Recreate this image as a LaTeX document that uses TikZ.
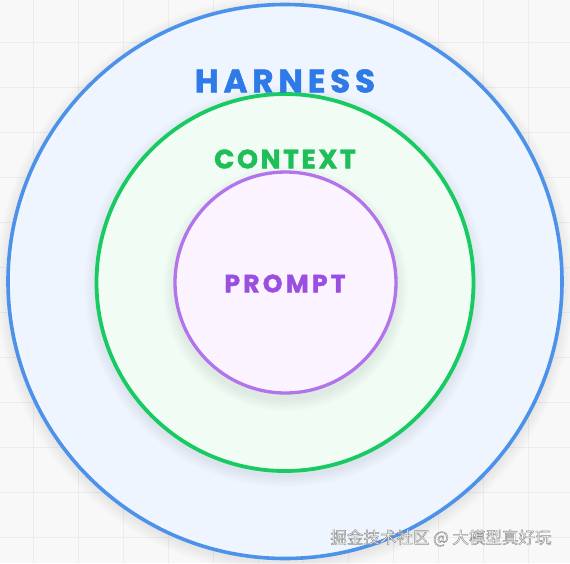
\documentclass[tikz,border=0pt]{standalone}
\usepackage{fontspec}
\setmainfont{Poppins}
\newfontfamily\cjk{Noto Sans CJK SC}
\definecolor{bgc}{HTML}{F8F8F8}
\definecolor{gridc}{HTML}{ECECEC}
\definecolor{bluestroke}{HTML}{4C92EA}
\definecolor{bluefill}{HTML}{EEF5FE}
\definecolor{bluetext}{HTML}{2E7AE6}
\definecolor{greenstroke}{HTML}{18CA62}
\definecolor{greenfill}{HTML}{F1FDF4}
\definecolor{greentext}{HTML}{1EBE58}
\definecolor{purplestroke}{HTML}{B274EA}
\definecolor{purplefill}{HTML}{FBF3FF}
\definecolor{purpletext}{HTML}{9A4FE0}
\tikzset{
  ring/.style={circle, inner sep=0pt, minimum size=#1},
  softshadow/.style={fill=black, fill opacity=0.010, draw=none},
  label1/.style={font=\bfseries\fontsize{32.5}{32.5}\selectfont\addfontfeature{LetterSpace=15,FakeBold=1.6}, text=bluetext},
  label2/.style={font=\bfseries\fontsize{26.5}{26.5}\selectfont\addfontfeature{LetterSpace=10,FakeBold=1.6}, text=greentext},
  label3/.style={font=\bfseries\fontsize{25}{25}\selectfont\addfontfeature{LetterSpace=13,FakeBold=1.6}, text=purpletext},
}
\begin{document}
\begin{tikzpicture}[x=1pt,y=-1pt]
\useasboundingbox (0,0) rectangle (570,563);
\fill[bgc] (0,0) rectangle (570,563);
\foreach \gx in {33,78,...,528} \draw[gridc, line width=1pt] (\gx,0) -- (\gx,563);
\foreach \gy in {42,87,...,537} \draw[gridc, line width=1pt] (0,\gy) -- (570,\gy);
% soft glow shadows
\foreach \d in {2,4,...,12} \fill[softshadow] (285,284.5) circle ({277+\d});
\node[ring=554pt, draw=bluestroke, fill=bluefill, line width=3.6pt] (harness) at (285,281.5) {};
\foreach \d in {2,4,...,12} \fill[softshadow] (285,286.5) circle ({188.5+\d});
\node[ring=377pt, draw=greenstroke, fill=greenfill, line width=3.8pt] (context) at (285,282.5) {};
\foreach \d in {2,4,...,12} \fill[softshadow] (285.5,288.5) circle ({110.5+\d});
\node[ring=221pt, draw=purplestroke, fill=purplefill, line width=3.3pt] (prompt) at (285.5,282.5) {};
\node[label1] (harnesst) at (285,81) {HARNESS};
\node[label2] (contextt) at (285,159) {CONTEXT};
\node[label3] (promptt) at (285,283.5) {PROMPT};
\node[font=\cjk\fontsize{16.5}{16.5}\selectfont, text=white, anchor=east] (mark) at (555,538) {\special{pdf:literal direct 0.55 0.55 0.55 RG 0.45 w 2 Tr}掘金技术社区 @ 大模型真好玩\special{pdf:literal direct 0 Tr}};
\end{tikzpicture}
\end{document}
